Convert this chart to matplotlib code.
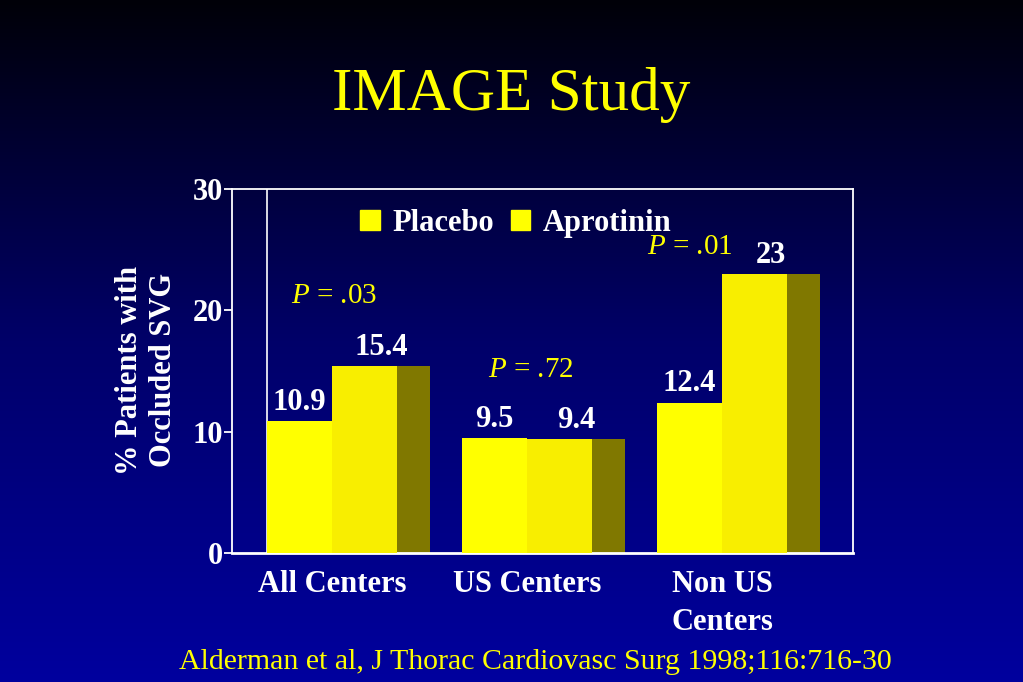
import matplotlib
matplotlib.use('Agg')
import matplotlib.pyplot as plt
from matplotlib.patches import Patch
import numpy as np

matplotlib.rcParams.update({'font.family': 'Liberation Serif',
                            'mathtext.fontset': 'custom',
                            'mathtext.rm': 'Liberation Serif',
                            'mathtext.it': 'Liberation Serif:italic'})

# data
categories = ['All Centers', 'US Centers', 'Non US\nCenters']
placebo = [10.9, 9.5, 12.4]
aprotinin = [15.4, 9.4, 23]
p_values = ['.03', '.72', '.01']
p_pos = [(0.01, 21.2), (1.02, 15.1), (1.836, 25.2)]   # where the P text sits (x, y)

YEL = '#FFFF00'
YEL2 = '#F8EE00'
SIDE = '#807800'

fig = plt.figure(figsize=(10.23, 6.82), dpi=100)

# background gradient, near black at the top to blue at the bottom
bg = fig.add_axes([0, 0, 1, 1], zorder=-10)
t = np.linspace(0, 1, 256)
blue = np.interp(t, [0, 0.5, 1], [8, 105, 158]) / 255.
grad = np.zeros((256, 1, 3))
grad[:, 0, 2] = blue
bg.imshow(grad, aspect='auto', extent=[0, 1, 1, 0])
bg.axis('off')

ax = fig.add_axes([0.2268, 0.1891, 0.607, 0.5337])
ax.set_facecolor('none')

x = np.arange(len(categories))
w = 0.332
sw = 0.169
ax.bar(x - w / 2, placebo, w, color=YEL, zorder=3)
ax.bar(x + w + sw / 2, aprotinin, sw, color=SIDE, zorder=2)
ax.bar(x + w / 2, aprotinin, w, color=YEL2, zorder=3)

for i in range(len(x)):
    ax.text(x[i] - w / 2, placebo[i] + 0.35, str(placebo[i]), ha='center', va='bottom',
            color='white', fontsize=22, fontweight='bold', zorder=5)
    ax.text(x[i] + (w + sw) / 2, aprotinin[i] + 0.35, str(aprotinin[i]), ha='center', va='bottom',
            color='white', fontsize=22, fontweight='bold', zorder=5)
    ax.text(p_pos[i][0], p_pos[i][1], r'$\it{P}$ = ' + p_values[i], ha='center', va='center',
            color=YEL, fontsize=21, zorder=5)

ax.axvline(-w, color='white', lw=1.2, zorder=1)

ax.set_xlim(-0.513, 2.672)
ax.set_ylim(0, 30)
ax.set_yticks([0, 10, 20, 30])
ax.set_xticks(x)
ax.set_xticklabels(categories)
for s in ax.spines.values():
    s.set_color('white')
    s.set_linewidth(1.3)
ax.spines['bottom'].set_linewidth(2)
ax.tick_params(axis='y', colors='white', length=6, width=1.3, labelsize=22, pad=0.5)
ax.tick_params(axis='x', colors='white', length=0, labelsize=22, pad=12)
for lbl in ax.get_xticklabels() + ax.get_yticklabels():
    lbl.set_fontweight('bold')
    lbl.set_color('white')
for lbl in ax.get_xticklabels():
    lbl.set_linespacing(1.4)

handles = [Patch(color=YEL), Patch(color=YEL)]
leg = ax.legend(handles, ['Placebo', 'Aprotinin'], ncol=2, frameon=False,
                loc='upper left', bbox_to_anchor=(0.162, 1.022),
                handlelength=0.65, handleheight=0.65, handletextpad=0.4, columnspacing=0.55,
                prop={'size': 22, 'weight': 'bold'})
for tx in leg.get_texts():
    tx.set_color('white')

fig.text(0.143, 0.457, '% Patients with\nOccluded SVG', rotation=90, ha='center', va='center',
         color='white', fontsize=22, fontweight='bold', linespacing=1.25)
fig.text(0.5, 0.861, 'IMAGE Study', ha='center', va='center', color=YEL, fontsize=44)
fig.text(0.523, 0.03, 'Alderman et al, J Thorac Cardiovasc Surg 1998;116:716-30',
         ha='center', va='center', color=YEL, fontsize=21.5)

fig.savefig('out.png', dpi=100)
